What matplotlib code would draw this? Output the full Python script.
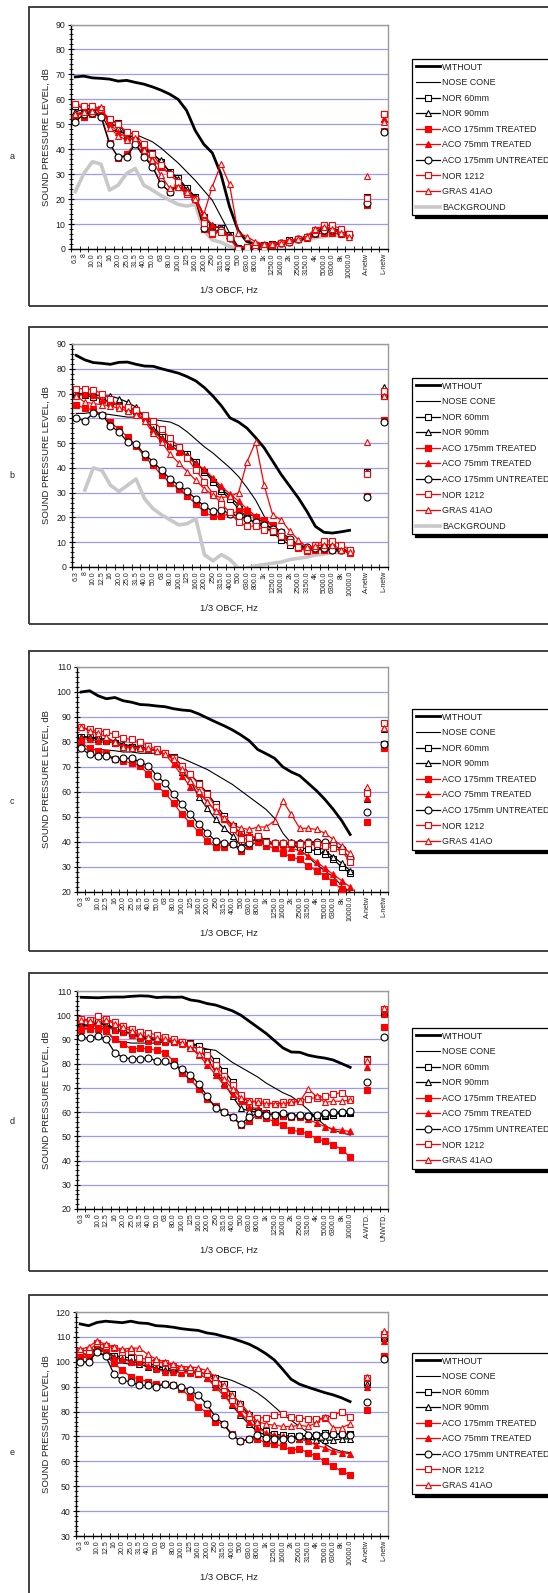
import numpy as np
import matplotlib.pyplot as plt
from matplotlib.patches import Rectangle
from matplotlib.ticker import FixedLocator, MultipleLocator

plt.rcParams['font.family'] = ['Liberation Sans', 'DejaVu Sans']

nan = float('nan')

bands = ["6.3", "8", "10.0", "12.5", "16", "20.0", "25.0", "31.5", "40.0", "50.0",
         "63", "80.0", "100.0", "125", "160.0", "200.0", "250", "315.0", "400.0", "500",
         "630.0", "800.0", "1k", "1250.0", "1600.0", "2k", "2500.0", "3150.0", "4k",
         "5000.0", "6300.0", "8k", "10000.0"]
netw_labels = ["A-netw", "L-netw"]
wtd_labels = ["A-WTD.", "UNWTD."]

# ---- panel a (33 bands, then A and L values for the measured series) ----
a_without = [69.0, 69.3, 68.6, 68.4, 68.1, 67.3, 67.6, 66.8, 66.1, 65.0, 63.7, 62.1, 60.0, 55.5, 47.5, 42.0,
             38.5, 30.0, 17.0, 7.5, 3.0, 2.0, 1.6, 2.0, 2.5, 3.0, 3.5, 4.5, 6.5, 8.0, 8.0, 7.0, 5.5]
a_nose = [54.0, 55.0, 55.0, 54.0, 48.0, 47.0, 46.5, 46.0, 44.5, 43.0, 40.5, 37.5, 34.5, 31.0, 27.5, 23.5,
          19.5, 13.0, 6.5, 1.0, 0.5, 1.5, 1.5, 2.0, 2.5, 3.0, 4.0, 5.0, 7.0, 8.5, 8.0, 7.0, 5.5]
a_nor60 = [57.5, 56.5, 56.0, 55.0, 52.0, 50.5, 45.5, 45.0, 40.5, 38.5, 35.0, 31.0, 28.5, 24.5, 21.0, 13.0,
           9.0, 8.5, 5.5, 0.5, 1.0, 1.5, 1.5, 2.0, 2.5, 3.5, 4.0, 5.0, 7.0, 8.5, 8.0, 7.5, 6.0, 20.8, 54.0]
a_nor90 = [55.0, 56.0, 56.0, 55.5, 51.0, 48.5, 45.0, 45.0, 40.0, 38.0, 35.5, 31.0, 28.0, 24.0, 21.0, 13.5,
           9.5, 8.5, 5.5, 0.5, 1.0, 1.5, 1.5, 2.0, 2.5, 3.5, 4.0, 5.0, 7.0, 8.5, 8.0, 7.0, 6.0, 20.5, 52.0]
a_aco175t = [52.5, 53.0, 54.0, 54.0, 42.5, 36.5, 38.0, 42.5, 37.5, 33.5, 26.0, 23.0, 25.0, 22.0, 20.0, 8.0,
             6.0, 7.0, 4.5, 0.0, 0.5, 1.0, 1.0, 1.5, 2.5, 3.0, 4.0, 4.5, 6.0, 6.5, 6.5, 6.0, 5.5, 17.8, 47.5]
a_aco75t = [53.0, 55.0, 55.0, 56.0, 50.0, 47.0, 44.5, 44.0, 39.0, 36.0, 33.0, 30.0, 27.0, 23.0, 20.5, 13.5,
            9.5, 8.5, 5.0, 0.5, 1.0, 1.5, 1.5, 2.0, 2.5, 3.5, 4.0, 5.0, 7.0, 8.0, 8.0, 7.0, 6.0, 18.5, 52.0]
a_aco175u = [51.0, 54.0, 54.5, 53.0, 42.0, 37.0, 37.0, 42.0, 37.0, 33.0, 26.0, 23.0, 25.5, 22.5, 20.0, 8.5,
             7.0, 7.5, 4.5, 0.0, 0.5, 1.0, 1.0, 1.5, 2.5, 3.0, 4.0, 5.0, 6.5, 7.5, 7.5, 6.5, 5.5, 18.5, 47.0]
a_nor1212 = [58.0, 57.5, 57.5, 56.0, 52.0, 50.0, 47.0, 46.0, 42.0, 38.0, 33.5, 30.0, 27.0, 22.0, 20.0, 10.5,
             6.5, 7.0, 4.5, 0.0, 1.0, 1.5, 1.0, 1.5, 2.5, 3.0, 4.0, 5.0, 7.5, 9.5, 9.5, 8.0, 6.0, 20.3, 54.2]
a_gras = [54.0, 55.0, 55.5, 57.0, 48.5, 45.5, 43.5, 44.5, 39.5, 35.5, 29.5, 24.5, 25.0, 23.0, 20.0, 14.0,
          25.0, 34.0, 26.0, 6.5, 5.0, 3.0, 2.0, 2.0, 2.5, 3.5, 4.0, 5.0, 8.0, 9.0, 8.0, 6.5, 5.0, 29.3, 51.0]
a_background = [23.0, 30.3, 35.0, 34.0, 23.6, 25.6, 30.3, 32.3, 25.6, 23.6, 21.4, 19.6, 17.9, 17.2, 17.9, 7.5,
                3.6, 2.7, 1.0, 0.0, 0.5, 1.0, 1.5, 2.0, 2.5, 3.0, 3.5, 4.0, 4.5, 5.0, 5.5, 5.5, 5.0]

# ---- panel b ----
b_without = [85.4, 83.6, 82.5, 82.2, 81.8, 82.6, 82.7, 81.8, 81.1, 81.0, 80.0, 79.1, 78.2, 76.8, 75.1, 72.4,
             69.0, 65.0, 60.2, 58.5, 56.0, 52.2, 48.1, 42.7, 37.3, 32.6, 27.9, 22.5, 16.4, 14.0, 13.7, 14.2, 14.8]
b_nose = [62.0, 62.0, 62.5, 62.0, 61.5, 61.0, 60.5, 60.5, 60.0, 59.5, 59.0, 58.5, 57.0, 54.5, 51.5, 48.5,
          46.0, 43.0, 40.0, 36.5, 32.0, 27.0, 20.5, 16.0, 13.0, 10.5, 8.5, 7.5, 7.0, 7.0, 6.5, 6.5, 6.0]
b_nor60 = [69.5, 69.5, 68.5, 68.0, 66.5, 65.0, 64.0, 63.0, 61.0, 57.0, 52.5, 49.5, 48.5, 45.5, 42.5, 38.5,
           34.5, 30.5, 27.5, 23.5, 20.0, 17.5, 16.5, 14.0, 11.0, 9.0, 8.0, 7.0, 7.5, 8.0, 7.5, 7.0, 6.5, 38.5, 69.0]
b_nor90 = [70.0, 70.0, 69.5, 69.0, 69.0, 68.0, 66.5, 64.5, 60.0, 55.5, 52.0, 49.0, 47.0, 45.0, 42.0, 39.0,
           35.5, 31.5, 28.5, 25.0, 22.0, 20.0, 18.0, 15.0, 12.0, 10.0, 8.5, 7.5, 7.5, 8.0, 7.5, 7.0, 6.0, 38.5, 72.5]
b_aco175t = [65.5, 64.0, 63.5, 61.5, 58.5, 55.5, 52.5, 49.0, 44.5, 41.0, 37.0, 34.0, 31.5, 28.5, 25.5, 22.0,
             20.5, 20.5, 21.5, 22.5, 22.5, 20.0, 19.0, 17.0, 14.0, 10.0, 7.5, 6.5, 7.0, 7.0, 7.0, 7.0, 5.5, 28.8, 59.5]
b_aco75t = [69.0, 70.0, 69.5, 67.5, 66.0, 65.5, 63.5, 62.0, 60.0, 55.0, 51.5, 49.0, 46.5, 44.5, 41.5, 39.5,
            36.0, 32.5, 29.5, 26.5, 23.5, 20.5, 19.0, 16.5, 13.5, 10.5, 8.0, 7.0, 7.0, 7.5, 7.5, 7.0, 6.0, 38.0, 69.5]
b_aco175u = [60.0, 59.0, 62.0, 61.5, 57.0, 54.5, 50.5, 49.5, 45.5, 42.5, 39.0, 35.5, 33.0, 30.5, 27.5, 24.5,
             22.5, 23.0, 21.5, 20.5, 19.5, 18.0, 17.0, 15.5, 14.0, 11.5, 9.0, 8.0, 7.5, 7.5, 7.0, 7.0, 6.5, 28.2, 58.5]
b_nor1212 = [72.0, 72.0, 71.5, 70.0, 68.0, 64.5, 64.5, 63.5, 61.5, 59.0, 55.5, 52.0, 48.5, 44.0, 39.0, 34.5,
             29.5, 25.5, 22.0, 18.0, 16.5, 16.5, 15.0, 14.5, 12.5, 10.0, 8.0, 7.0, 9.0, 10.5, 10.5, 9.0, 7.0, 37.5, 71.0]
b_gras = [69.0, 66.5, 66.0, 65.5, 65.0, 64.0, 63.0, 61.5, 59.0, 54.0, 50.5, 45.5, 42.0, 38.5, 35.0, 31.5,
          29.0, 28.0, 28.5, 30.0, 42.5, 50.5, 33.0, 21.0, 19.0, 14.5, 11.0, 8.0, 8.5, 9.0, 9.0, 7.0, 6.0, 50.5, 69.0]
b_background = [nan, 31.0, 40.0, 39.0, 33.0, 30.5, 33.0, 35.5, 27.5, 23.5, 21.0, 19.0, 17.0, 17.5, 19.5, 5.0,
                2.5, 5.0, 3.0, -0.5, -0.5, 0.5, 1.0, 1.5, 2.0, 3.0, 3.5, 4.0, 4.8, 5.2, 5.8, 6.0, nan]

# ---- panel c ----
c_without = [100.0, 100.5, 98.5, 97.3, 97.8, 96.5, 95.9, 95.0, 94.8, 94.4, 94.1, 93.3, 92.8, 92.5, 91.2, 89.6,
             88.0, 86.5, 84.8, 82.8, 80.5, 77.0, 75.3, 73.5, 70.0, 68.0, 66.5, 63.5, 60.5, 57.0, 53.0, 48.5, 43.0]
c_nose = [77.5, 77.0, 77.0, 76.8, 76.5, 76.0, 76.0, 75.5, 75.5, 75.5, 75.5, 74.5, 73.5, 72.0, 70.5, 69.0,
          67.0, 65.0, 63.0, 60.5, 58.0, 55.5, 53.0, 49.5, 43.5, 39.5, 37.0, 34.0, 31.0, 28.5, 26.0, 22.5, 20.0]
c_nor60 = [82.0, 82.0, 81.0, 80.5, 79.5, 78.0, 78.0, 77.5, 77.0, 76.5, 75.5, 74.0, 70.5, 67.0, 63.5, 59.5,
           55.0, 50.5, 46.5, 43.5, 42.0, 42.0, 40.5, 39.5, 39.0, 39.0, 38.0, 37.0, 36.5, 35.0, 33.0, 30.0, 27.5, 60.0, 79.0]
c_nor90 = [82.0, 82.0, 81.5, 81.0, 80.5, 79.0, 78.5, 78.0, 77.5, 76.5, 75.5, 73.0, 68.0, 64.5, 58.0, 53.5,
           49.0, 45.5, 42.5, 38.5, 40.0, 41.0, 39.5, 39.5, 39.5, 40.0, 40.0, 39.5, 38.5, 36.5, 34.0, 31.5, 28.5, 57.0, 85.0]
c_aco175t = [79.5, 77.5, 76.5, 75.5, 73.0, 72.5, 71.5, 70.5, 67.0, 62.5, 59.5, 55.5, 51.0, 47.5, 44.0, 40.5,
             38.0, 38.0, 39.0, 36.5, 38.5, 40.0, 38.5, 37.5, 35.5, 34.0, 33.0, 30.5, 28.5, 26.5, 24.0, 21.0, 18.5, 48.0, 77.5]
c_aco75t = [81.5, 81.0, 80.5, 80.5, 79.5, 78.5, 78.0, 77.5, 77.0, 76.5, 75.0, 71.0, 66.5, 62.0, 59.5, 56.0,
            52.5, 49.0, 46.5, 43.0, 43.0, 41.0, 39.5, 39.0, 38.5, 37.5, 36.5, 34.5, 32.0, 29.5, 27.0, 24.5, 22.0, 57.5, 85.5]
c_aco175u = [77.5, 75.0, 74.5, 74.5, 73.0, 73.5, 73.5, 72.0, 70.5, 66.5, 63.5, 59.0, 55.0, 51.0, 47.0, 43.5,
             40.5, 39.5, 39.0, 37.5, 39.5, 42.0, 40.0, 39.5, 39.5, 39.5, 39.5, 40.0, 40.0, 40.0, 39.0, 37.0, 33.5, 52.0, 79.0]
c_nor1212 = [86.0, 85.0, 84.5, 84.0, 83.0, 81.5, 81.0, 80.0, 78.5, 77.0, 75.5, 73.5, 70.5, 67.0, 63.0, 59.0,
             54.0, 49.0, 45.0, 41.0, 41.5, 42.5, 40.0, 39.5, 39.5, 39.5, 39.0, 39.5, 39.0, 38.5, 37.5, 36.5, 32.0, 59.5, 87.5]
c_gras = [86.0, 84.5, 83.5, 82.0, 80.0, 78.0, 77.5, 77.5, 77.5, 76.5, 75.0, 73.0, 69.0, 64.5, 60.5, 56.0,
          52.5, 49.5, 47.0, 45.5, 45.0, 46.0, 46.0, 48.5, 56.5, 51.0, 45.5, 45.5, 45.0, 43.5, 41.0, 38.5, 35.5, 62.0, 85.5]

# ---- panel d ----
d_without = [107.4, 107.3, 107.2, 107.4, 107.5, 107.5, 107.8, 108.0, 107.9, 107.3, 107.5, 107.4, 107.5, 106.3,
             105.8, 104.8, 104.2, 103.0, 101.8, 100.0, 97.5, 95.0, 92.5, 89.5, 86.5, 84.8, 84.7, 83.5, 82.8,
             82.3, 81.5, 80.0, 78.5]
d_nose = [94.0, 95.0, 96.0, 93.5, 89.5, 89.0, 88.5, 88.5, 88.5, 88.5, 89.0, 89.0, 88.5, 88.0, 87.0, 86.0,
          85.5, 83.0, 80.5, 78.5, 76.5, 74.5, 72.0, 70.0, 68.0, 66.5, 64.0, 61.0, 57.5, 54.5, 52.5, 51.5, 50.5]
d_nor60 = [95.0, 96.0, 97.0, 96.5, 94.5, 93.5, 92.5, 91.5, 90.5, 90.0, 89.5, 89.5, 89.0, 88.5, 87.5, 85.0,
           81.0, 77.0, 72.5, 66.0, 62.0, 60.5, 59.5, 59.0, 58.5, 58.5, 58.5, 58.5, 58.5, 58.5, 59.0, 59.5, 59.5, 82.0, 101.0]
d_nor90 = [96.0, 96.0, 96.5, 96.0, 94.0, 93.0, 92.5, 91.0, 90.0, 89.5, 89.5, 89.0, 88.5, 87.5, 86.0, 82.0,
           76.5, 72.0, 66.5, 61.5, 60.5, 60.0, 59.5, 59.0, 58.5, 58.5, 58.5, 58.5, 58.0, 59.0, 59.5, 60.0, 60.0, 81.0, 101.0]
d_aco175t = [94.0, 94.5, 94.5, 93.5, 90.0, 88.0, 86.0, 86.5, 86.0, 85.5, 84.5, 81.0, 76.0, 73.5, 69.5, 65.5,
             62.5, 60.0, 58.0, 54.5, 56.5, 59.0, 57.5, 56.0, 54.5, 52.5, 52.0, 51.0, 49.0, 48.0, 46.5, 44.5, 41.5, 69.0, 95.0]
d_aco75t = [95.0, 95.5, 96.0, 95.0, 94.0, 93.0, 92.0, 90.5, 89.5, 89.5, 89.0, 89.0, 88.0, 86.5, 83.5, 79.5,
            75.5, 71.0, 67.5, 64.5, 62.0, 61.5, 60.0, 59.0, 58.5, 58.0, 58.0, 57.0, 55.5, 54.0, 53.0, 52.5, 52.0, 78.5, 100.5]
d_aco175u = [91.0, 90.5, 91.5, 90.0, 84.5, 82.5, 82.0, 82.0, 82.5, 81.0, 81.0, 79.5, 78.0, 75.5, 71.5, 66.5,
             61.5, 60.0, 58.0, 55.0, 58.0, 59.5, 59.0, 59.0, 59.5, 58.5, 59.0, 58.5, 59.0, 59.5, 60.0, 60.0, 60.5, 72.5, 91.0]
d_nor1212 = [98.5, 98.0, 99.5, 98.5, 97.0, 95.5, 94.5, 93.0, 92.5, 92.0, 91.0, 90.0, 89.0, 88.0, 85.5, 83.5,
             79.5, 75.0, 71.0, 67.0, 64.5, 64.5, 64.0, 63.5, 64.0, 64.0, 64.5, 65.5, 66.0, 66.5, 67.5, 68.0, 65.5, 81.5, 102.5]
d_gras = [98.0, 97.5, 97.0, 98.0, 96.5, 95.0, 93.5, 92.0, 91.0, 90.5, 90.0, 89.5, 88.5, 86.5, 84.0, 81.0,
          77.5, 73.5, 69.5, 66.0, 64.5, 64.0, 63.5, 63.5, 63.5, 64.0, 64.5, 69.5, 66.5, 64.0, 64.5, 64.5, 65.0, 81.0, 103.0]

# ---- panel e ----
e_without = [115.2, 114.5, 115.8, 116.3, 116.0, 115.7, 116.3, 115.6, 115.4, 114.5, 114.3, 113.9, 113.3, 112.9,
             112.6, 111.6, 111.1, 110.2, 109.4, 108.3, 107.1, 105.4, 103.3, 100.8, 97.0, 93.0, 91.0, 89.8, 88.7,
             87.6, 86.7, 85.5, 84.0]
e_nose = [102.0, 102.5, 103.5, 102.5, 99.5, 99.5, 99.0, 98.5, 98.5, 98.0, 97.5, 97.0, 96.5, 96.0, 95.5, 95.0,
          94.5, 93.5, 92.5, 91.0, 89.5, 87.5, 85.0, 82.0, 79.0, 76.5, 74.0, 71.5, 69.0, 67.0, 65.0, 64.0, 63.5]
e_nor60 = [103.0, 103.0, 105.0, 104.0, 102.5, 102.0, 101.5, 100.0, 99.5, 98.5, 97.5, 97.0, 97.0, 96.5, 96.0, 95.0,
           93.5, 91.0, 87.0, 83.0, 78.5, 74.0, 72.0, 71.0, 70.5, 70.0, 70.0, 70.0, 70.5, 71.5, 71.0, 71.0, 71.0, 92.0, 110.0]
e_nor90 = [103.0, 103.0, 106.0, 105.0, 102.0, 101.0, 100.5, 99.0, 98.0, 97.5, 96.5, 96.5, 96.0, 96.0, 95.0, 93.5,
           91.0, 87.5, 82.5, 78.5, 75.0, 72.0, 70.5, 70.0, 69.5, 69.5, 69.0, 69.0, 68.5, 68.5, 68.5, 69.0, 69.0, 91.0, 109.5]
e_aco175t = [102.0, 101.5, 104.5, 104.0, 99.5, 96.5, 94.0, 93.0, 92.0, 91.0, 91.0, 90.5, 89.0, 86.0, 82.0, 79.5,
             76.0, 75.0, 71.0, 68.0, 69.0, 69.0, 67.5, 67.0, 66.0, 64.5, 65.0, 63.5, 62.0, 60.0, 58.0, 56.0, 54.5, 80.5, 102.5]
e_aco75t = [104.0, 102.0, 105.5, 104.5, 101.5, 101.0, 100.0, 100.0, 98.5, 97.0, 96.0, 96.0, 95.5, 95.5, 95.0, 93.5,
            90.0, 86.5, 83.0, 79.5, 76.0, 73.5, 71.5, 70.5, 70.0, 69.5, 69.0, 68.0, 66.5, 65.5, 64.0, 63.5, 63.0, 90.0, 108.5]
e_aco175u = [100.0, 100.0, 104.0, 102.5, 95.0, 92.5, 92.0, 90.5, 90.5, 90.0, 91.0, 90.5, 90.0, 88.5, 86.5, 83.0,
             78.0, 75.0, 70.5, 68.0, 69.0, 70.5, 69.5, 69.0, 69.0, 69.0, 70.0, 70.5, 70.5, 70.5, 71.0, 71.0, 70.5, 84.0, 101.0]
e_nor1212 = [104.5, 104.5, 107.5, 106.5, 105.5, 104.0, 104.5, 101.5, 101.0, 100.0, 99.5, 98.5, 97.0, 96.5, 95.5, 95.0,
             92.0, 89.0, 84.5, 81.5, 78.0, 77.5, 77.5, 78.5, 79.0, 78.0, 77.5, 77.0, 77.0, 77.5, 78.5, 80.0, 78.0, 93.5, 111.0]
e_gras = [105.0, 106.0, 108.5, 107.0, 106.0, 105.0, 105.5, 105.5, 103.0, 101.0, 100.0, 99.0, 98.0, 98.0, 97.5, 96.5,
          94.0, 90.5, 86.5, 83.5, 79.5, 76.0, 75.0, 74.5, 74.0, 74.0, 74.5, 74.0, 75.5, 78.0, 73.5, 73.5, 75.0, 94.0, 112.5]

# ---- figure, all positions in pixels of the 548 x 1593 canvas ----
W, H = 548, 1593
fig = plt.figure(figsize=(W / 100, H / 100), dpi=100)
TXT = '#222222'


def fx(px):
    return px / W


def fy(py):
    return 1 - py / H


def spread(vals):
    # bands, gap, first weighted level, gap, second weighted level
    if len(vals) == 35:
        return list(vals[:33]) + [nan, vals[33], nan, vals[34]]
    return list(vals) + [nan] * 4


styles = {
    "WITHOUT": dict(color="black", lw=2.0, zorder=3),
    "NOSE CONE": dict(color="black", lw=0.8, zorder=3),
    "NOR 60mm": dict(color="black", lw=0.9, marker="s", mfc="white", mec="black", zorder=4),
    "NOR 90mm": dict(color="black", lw=0.9, marker="^", mfc="white", mec="black", zorder=4),
    "ACO 175mm TREATED": dict(color="red", lw=0.9, marker="s", mfc="red", mec="red", zorder=4),
    "ACO 75mm TREATED": dict(color="red", lw=0.9, marker="^", mfc="red", mec="red", zorder=4),
    "ACO 175mm UNTREATED": dict(color="black", lw=0.9, marker="o", mfc="white", mec="black", zorder=4),
    "NOR 1212": dict(color="red", lw=0.9, marker="s", mfc="white", mec="red", zorder=4),
    "GRAS 41AO": dict(color="red", lw=0.9, marker="^", mfc="white", mec="red", zorder=4),
    "BACKGROUND": dict(color="#C8C8C8", lw=2.6, zorder=2),
}


def panel(letter, box, axbox, ylim, series, end_labels, leg_top):
    # outer frame
    x0, y0, y1 = box
    fig.add_artist(Rectangle((fx(x0), fy(y1)), fx(W + 10 - x0), (y1 - y0) / H,
                             transform=fig.transFigure, fill=False, lw=1.3, ec='#333333'))
    fig.text(fx(12), fy((y0 + y1) / 2), letter, fontsize=6.5, color=TXT, ha='center', va='center')

    l, t, r, b = axbox
    ax = fig.add_axes([fx(l), fy(b), fx(r - l), (b - t) / H])
    x = np.arange(37)
    for name, vals in series:
        st = dict(styles[name])
        ax.plot(x, spread(vals), label=name, ms=5.0, mew=0.8, **st)

    ax.set_xlim(-0.5, 36.5)
    ax.set_ylim(*ylim)
    ax.set_yticks(np.arange(ylim[0], ylim[1] + 1, 10))
    ax.yaxis.set_minor_locator(MultipleLocator(2))
    ax.tick_params(axis='y', which='major', direction='inout', length=5, width=0.8,
                   labelsize=6.3, labelcolor=TXT, pad=1.5)
    ax.tick_params(axis='y', which='minor', direction='inout', length=3.5, width=0.6)
    ax.set_xticks(x)
    ax.set_xticklabels(bands + ["", end_labels[0], "", end_labels[1]], rotation=90,
                       fontsize=5.0, color=TXT)
    ax.xaxis.set_minor_locator(FixedLocator(np.arange(-0.5, 37, 1)))
    ax.tick_params(axis='x', which='major', length=0, pad=3)
    ax.tick_params(axis='x', which='minor', direction='inout', length=4, width=0.6)
    ax.yaxis.grid(True, color='#9A9AF0', lw=0.9)
    ax.set_axisbelow(True)
    for s in ('top', 'right'):
        ax.spines[s].set_color('#9A9A9A')
        ax.spines[s].set_linewidth(1.0)
    for s in ('left', 'bottom'):
        ax.spines[s].set_linewidth(1.0)

    fig.text(fx(46), fy((t + b) / 2), "SOUND PRESSURE LEVEL, dB", rotation=90,
             fontsize=6.8, color=TXT, ha='center', va='center')
    fig.text(fx(229), fy(b + 41), "1/3 OBCF, Hz", fontsize=6.8, color=TXT, ha='center', va='center')

    leg = ax.legend(loc='upper left', bbox_to_anchor=(fx(412), fy(leg_top)), bbox_transform=fig.transFigure,
                    fontsize=6.4, frameon=True, fancybox=False, edgecolor='black', framealpha=1,
                    borderpad=0.4, labelspacing=0.74, handlelength=2.7, handletextpad=0.3,
                    borderaxespad=0, shadow={'color': 'black', 'alpha': 1, 'ox': 2, 'oy': -2})
    leg.get_frame().set_linewidth(0.9)
    for txt in leg.get_texts():
        txt.set_color(TXT)
    return ax


panel("a", (29.5, 7, 306), (71, 24.5, 388, 249), (0, 90),
      [("WITHOUT", a_without), ("NOSE CONE", a_nose), ("NOR 60mm", a_nor60), ("NOR 90mm", a_nor90),
       ("ACO 175mm TREATED", a_aco175t), ("ACO 75mm TREATED", a_aco75t),
       ("ACO 175mm UNTREATED", a_aco175u), ("NOR 1212", a_nor1212), ("GRAS 41AO", a_gras),
       ("BACKGROUND", a_background)], netw_labels, 59)

panel("b", (29.5, 327, 624), (72, 344, 388, 567), (0, 90),
      [("WITHOUT", b_without), ("NOSE CONE", b_nose), ("NOR 60mm", b_nor60), ("NOR 90mm", b_nor90),
       ("ACO 175mm TREATED", b_aco175t), ("ACO 75mm TREATED", b_aco75t),
       ("ACO 175mm UNTREATED", b_aco175u), ("NOR 1212", b_nor1212), ("GRAS 41AO", b_gras),
       ("BACKGROUND", b_background)], netw_labels, 378)

panel("c", (29.5, 651, 951), (77, 667, 388, 892), (20, 110),
      [("WITHOUT", c_without), ("NOSE CONE", c_nose), ("NOR 60mm", c_nor60), ("NOR 90mm", c_nor90),
       ("ACO 175mm TREATED", c_aco175t), ("ACO 75mm TREATED", c_aco75t),
       ("ACO 175mm UNTREATED", c_aco175u), ("NOR 1212", c_nor1212), ("GRAS 41AO", c_gras)],
      netw_labels, 709)

panel("d", (29.5, 973, 1271), (77, 991, 388, 1209), (20, 110),
      [("WITHOUT", d_without), ("NOSE CONE", d_nose), ("NOR 60mm", d_nor60), ("NOR 90mm", d_nor90),
       ("ACO 175mm TREATED", d_aco175t), ("ACO 75mm TREATED", d_aco75t),
       ("ACO 175mm UNTREATED", d_aco175u), ("NOR 1212", d_nor1212), ("GRAS 41AO", d_gras)],
      wtd_labels, 1028)

panel("e", (29.5, 1295, 1610), (76, 1312, 388, 1536), (30, 120),
      [("WITHOUT", e_without), ("NOSE CONE", e_nose), ("NOR 60mm", e_nor60), ("NOR 90mm", e_nor90),
       ("ACO 175mm TREATED", e_aco175t), ("ACO 75mm TREATED", e_aco75t),
       ("ACO 175mm UNTREATED", e_aco175u), ("NOR 1212", e_nor1212), ("GRAS 41AO", e_gras)],
      netw_labels, 1353)

fig.savefig("out.png", dpi=100)
